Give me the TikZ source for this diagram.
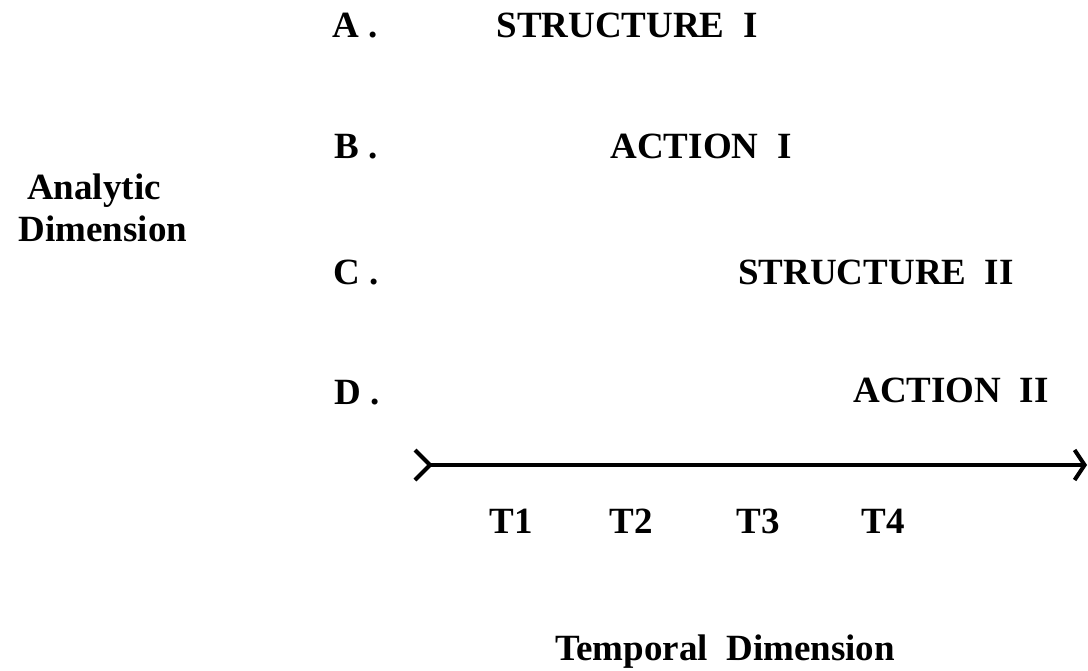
\documentclass[tikz,border=0pt]{standalone}
\usepackage{fontspec}
\setmainfont{Liberation Serif}
\usetikzlibrary{arrows.meta, positioning}

\begin{document}
\begin{tikzpicture}[
    x=0.5pt, y=-0.5pt,
    lbl/.style={inner sep=0pt, font=\fontsize{18.5}{22}\selectfont\bfseries},
    rowlabel/.style={lbl, anchor=base west},
    phase/.style={lbl, anchor=base},
    tick/.style={lbl, anchor=base},
    timeline/.style={line width=2pt,
      {Straight Barb[reversed, length=7.5pt, width=15pt, line width=2pt]}-{Straight Barb[length=5pt, width=15pt, line width=2pt]}}
  ]
  \useasboundingbox (0,0) rectangle (1088,670);

  % analytic dimension rows
  \node[rowlabel] (ra) at (332, 37) {A~.};
  \node[rowlabel] (rb) at (334, 158) {B~.};
  \node[rowlabel] (rc) at (333, 284) {C~.};
  \node[rowlabel] (rd) at (334, 404) {D~.};

  \node[phase] (s1) at (627, 37) {STRUCTURE~~I};
  \node[phase] (a1) at (701, 158) {ACTION~~I};
  \node[phase] (s2) at (876, 284) {STRUCTURE~~II};
  \node[phase] (a2) at (951, 402) {ACTION~~II};

  \node[phase] (an) at (94, 199) {Analytic};
  \node[phase] (dm) at (103, 241) {Dimension};

  % time axis
  \coordinate (tstart) at (413, 465);
  \coordinate (tend) at (1087, 465);
  \draw[timeline] (tstart) -- (tend);

  \node[tick] (t1) at (511, 533) {T1};
  \node[tick] (t2) at (631, 533) {T2};
  \node[tick] (t3) at (758, 533) {T3};
  \node[tick] (t4) at (883, 533) {T4};

  \node[phase] (td) at (725, 660) {Temporal~~Dimension};
\end{tikzpicture}
\end{document}
